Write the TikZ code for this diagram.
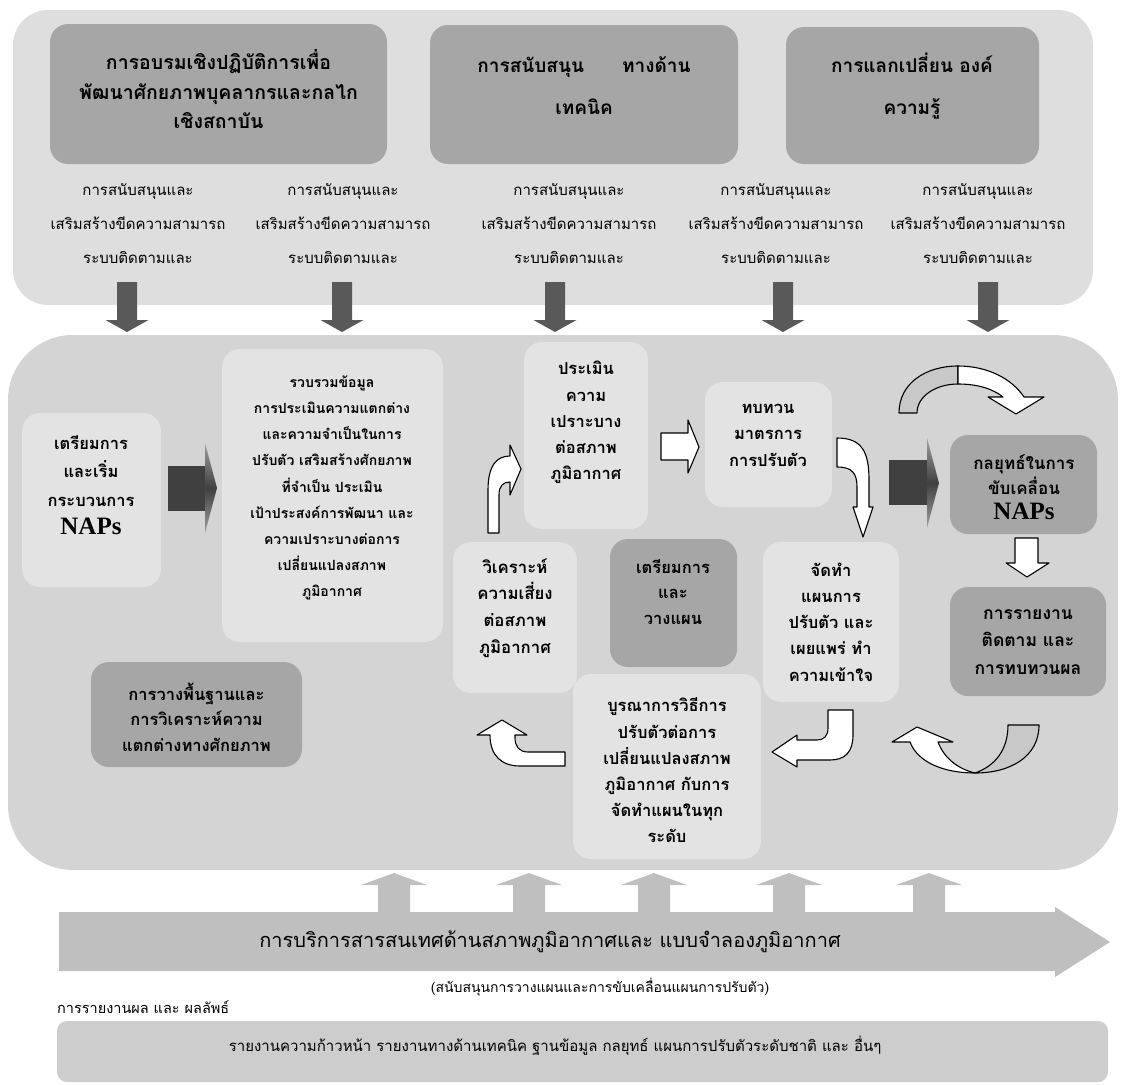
\documentclass[tikz,border=0pt]{standalone}
\usepackage{fontspec}
\setmainfont[Script=Thai]{Loma}
\newfontfamily\napfont{Liberation Serif}
\newcommand\napsty{\napfont\bfseries\fontsize{25}{28}\selectfont}
\usetikzlibrary{fit,calc}
\definecolor{cTop}{HTML}{DEDEDE}
\definecolor{cMid}{HTML}{D4D4D4}
\definecolor{cLight}{HTML}{E3E3E3}
\definecolor{cDark}{HTML}{A6A6A6}
\definecolor{cDown}{HTML}{595959}
\definecolor{cBlk}{HTML}{404040}
\definecolor{cUp}{HTML}{BFBFBF}
\definecolor{cBar}{HTML}{CDCDCD}
\definecolor{cBack}{HTML}{C8C8C8}
\begin{document}
\begin{tikzpicture}[x=1pt,y=-1pt,
  area/.style={inner sep=0pt, outer sep=0pt, draw=none},
  lbox/.style={area, fill=cLight, rounded corners=18pt},
  dbox/.style={area, fill=cDark, rounded corners=18pt},
  wa/.style={fill=white, draw=black, line width=1.1pt, line join=round},
  back/.style={fill=cBack, draw=black, line width=1.1pt, line join=round},
  bt/.style={align=center, inner sep=0pt, font=\bfseries\fontsize{16.5}{26.2}\selectfont},
  tt/.style={align=center, inner sep=0pt, font=\bfseries\fontsize{19.5}{29.5}\selectfont},
  lab/.style={align=center, inner sep=0pt, font=\fontsize{15}{34}\selectfont}
]
\useasboundingbox (0,0) rectangle (1121,1084);

% ---------- panels ----------
\node[area, fill=cTop, rounded corners=35pt, fit={(13,10) (1093,305)}] (top) {};
\node[area, fill=cMid, rounded corners=65pt, fit={(8,335) (1118,870)}] (mid) {};

% ---------- top boxes ----------
\node[dbox, fit={(50,24) (387,164)}] (b1) {};
\node[dbox, fit={(430,25) (738,164)}] (b2) {};
\node[dbox, fit={(786,27) (1039,164)}] (b3) {};
\node[tt] (b1t) at (218.5,89.5) {การอบรมเชิงปฏิบัติการเพื่อ\\พัฒนาศักยภาพบุคลากรและกลไก\\เชิงสถาบัน};
\node[tt, font=\bfseries\fontsize{19}{42}\selectfont] (b2t) at (584,86) {การสนับสนุน\hspace{2em}ทางด้าน\\เทคนิค};
\node[tt, font=\bfseries\fontsize{19}{42}\selectfont] (b3t) at (912,86) {การแลกเปลี่ยน องค์\\ความรู้};

% ---------- labels ----------
\foreach \x/\n in {138/l1,343/l2,569/l3,776/l4,978/l5}
  \node[lab] (\n) at (\x,224) {การสนับสนุนและ\\เสริมสร้างขีดความสามารถ\\ระบบติดตามและ};

% ---------- down arrows ----------
\foreach \x in {127,342,555,783,988}
  \fill[cDown] ({\x-10},282) -- ({\x+10},282) -- ({\x+10},320) -- ({\x+21.5},320)
     -- (\x,332) -- ({\x-21.5},320) -- ({\x-10},320) -- cycle;

% ---------- middle boxes ----------
\node[lbox, fit={(22,413) (161,587)}] (n1) {};
\node[lbox, fit={(222,349) (443,642)}] (n2) {};
\node[lbox, fit={(524,342) (648,529)}] (n3) {};
\node[lbox, fit={(705,382) (832,507)}] (n4) {};
\node[lbox, fit={(453,542) (577,693)}] (n5) {};
\node[dbox, fit={(610,539) (737,667)}] (n6) {};
\node[dbox, fit={(91,662) (302,767)}] (n7) {};
\node[lbox, fit={(573,674) (761,859)}] (n8) {};
\node[lbox, fit={(763,542) (899,702)}] (n9) {};
\node[dbox, fit={(950,435) (1097,534)}] (n10) {};
\node[dbox, fit={(950,587) (1106,696)}] (n11) {};

\node[bt, font=\bfseries\fontsize{16.5}{28.5}\selectfont] (n1t) at (91,485) {เตรียมการ\\และเริ่ม\\กระบวนการ\\{\napsty NAPs}};
\node[bt, font=\bfseries\fontsize{14}{26.2}\selectfont] (n2t) at (332,488) {รวบรวมข้อมูล\\การประเมินความแตกต่าง\\และความจำเป็นในการ\\ปรับตัว เสริมสร้างศักยภาพ\\ที่จำเป็น ประเมิน\\เป้าประสงค์การพัฒนา และ\\ความเปราะบางต่อการ\\เปลี่ยนแปลงสภาพ\\ภูมิอากาศ};
\node[bt] (n3t) at (586,422.5) {ประเมิน\\ความ\\เปราะบาง\\ต่อสภาพ\\ภูมิอากาศ};
\node[bt, font=\bfseries\fontsize{16.5}{26.5}\selectfont] (n4t) at (768,435) {ทบทวน\\มาตรการ\\การปรับตัว};
\node[bt, font=\bfseries\fontsize{16.8}{26.7}\selectfont] (n5t) at (515,608) {วิเคราะห์\\ความเสี่ยง\\ต่อสภาพ\\ภูมิอากาศ};
\node[bt, font=\bfseries\fontsize{16.5}{25.5}\selectfont] (n6t) at (673,592) {เตรียมการ\\และ\\วางแผน};
\node[bt, font=\bfseries\fontsize{16.5}{25.5}\selectfont] (n7t) at (196.5,717) {การวางพื้นฐานและ\\การวิเคราะห์ความ\\แตกต่างทางศักยภาพ};
\node[bt] (n8t) at (667,770.5) {บูรณาการวิธีการ\\ปรับตัวต่อการ\\เปลี่ยนแปลงสภาพ\\ภูมิอากาศ กับการ\\จัดทำแผนในทุก\\ระดับ};
\node[bt] (n9t) at (831,622) {จัดทำ\\แผนการ\\ปรับตัว และ\\เผยแพร่ ทำ\\ความเข้าใจ};
\node[bt, font=\bfseries\fontsize{17}{25}\selectfont] (n10t) at (1024,487) {กลยุทธ์ในการ\\ขับเคลื่อน\\{\napsty NAPs}};
\node[bt, font=\bfseries\fontsize{17.5}{27.5}\selectfont] (n11t) at (1028,642) {การรายงาน\\ติดตาม และ\\การทบทวนผล};

% ---------- dark block arrows ----------
\fill[cBlk] (168,466) rectangle (205.5,511);
\shade[top color=gray!75, bottom color=gray!75, middle color=cBlk] (205,443) -- (217,488) -- (205,533) -- cycle;
\fill[cBlk] (889,460) rectangle (927.5,505);
\shade[top color=gray!75, bottom color=gray!75, middle color=cBlk] (927,438) -- (939,483) -- (927,528) -- cycle;

% ---------- white arrows ----------
% n3 -> n4
\path[wa] (661,433) -- (688,433) -- (688,420) -- (699,447) -- (688,473) -- (688,460) -- (661,460) -- cycle;
% n5 -> n3 (bent up-right)
\path[wa] (488,533) -- (488,490) .. controls (488,465) and (497,456) .. (510,456) -- (510,445) -- (521,469)
   -- (510,495) -- (510,482) .. controls (503,482) and (499,486) .. (499,495) -- (499,533) -- cycle;
% n4 -> n9 (bent right-down)
\path[wa] (837,438) .. controls (862,438) and (869,452) .. (869,480) -- (869,507) -- (873,507) -- (863,537)
   -- (853,507) -- (857,507) -- (857,487) .. controls (857,473) and (852,467) .. (837,467) -- cycle;
% n10 -> n11
\path[wa] (1015,538) -- (1038,538) -- (1038,563) -- (1049,563) -- (1027,577) -- (1006,563) -- (1015,563) -- cycle;
% n9 -> n8 (bent down-left)
\path[wa] (828,710) -- (853,710) -- (853,735) .. controls (853,752) and (845,760) .. (830,760) -- (797,760)
   -- (797,767) -- (772,752) -- (797,735) -- (797,740) -- (817,740) .. controls (824,740) and (828,736) .. (828,728) -- cycle;
% n8 -> n5 (left then up)
\path[wa] (565,752) -- (528,752) .. controls (519,752) and (515,746) .. (515,738) -- (515,735) -- (527,735)
   -- (502,720) -- (477,735) -- (490,735) .. controls (490,756) and (502,766) .. (520,766) -- (565,766) -- cycle;

% ---------- ribbon arrows ----------
\path[back] (899,413) .. controls (899,383) and (926,366) .. (958,366) -- (958,384)
   .. controls (936,384) and (917,396) .. (917,413) -- cycle;
\path[wa] (958,366) .. controls (988,366) and (1012,379) .. (1024,397) -- (1044,397) -- (1016,414) -- (988,397)
   -- (1003,397) .. controls (993,389) and (978,384) .. (958,384) -- cycle;
\path[back] (1008,725) -- (1039,725) .. controls (1039,757) and (1010,773) .. (975,773)
   .. controls (995,766) and (1008,750) .. (1008,725) -- cycle;
\path[wa] (975,773) .. controls (945,773) and (918,763) .. (910,742) -- (892,742) -- (917,727) -- (953,742)
   -- (938,742) .. controls (944,758) and (958,769) .. (975,773) -- cycle;

% ---------- up arrows ----------
\foreach \x in {394,529,654,789,929}
  \fill[cUp] ({\x-16},912) -- ({\x-16},885) -- ({\x-33},885) -- (\x,873) -- ({\x+33},885)
     -- ({\x+16},885) -- ({\x+16},912) -- cycle;

% ---------- big arrow ----------
\fill[cUp] (59,912) -- (1055,912) -- (1055,907) -- (1110,942) -- (1055,977) -- (1055,971) -- (59,971) -- cycle;
\node[inner sep=0pt, font=\fontsize{20}{24}\selectfont] (bigt) at (550,942) {การบริการสารสนเทศด้านสภาพภูมิอากาศและ แบบจำลองภูมิอากาศ};
\node[inner sep=0pt, font=\fontsize{14}{16}\selectfont] (cap) at (600,987) {(สนับสนุนการวางแผนและการขับเคลื่อนแผนการปรับตัว)};
\node[inner sep=0pt, anchor=west, font=\fontsize{14.5}{16}\selectfont] (rep) at (57,1007) {การรายงานผล และ ผลลัพธ์};

% ---------- bottom bar ----------
\node[area, fill=cBar, rounded corners=10pt, fit={(57,1021) (1108,1082)}] (bar) {};
\node[inner sep=0pt, font=\fontsize{15}{18}\selectfont] (bart) at (555,1046) {รายงานความก้าวหน้า รายงานทางด้านเทคนิค ฐานข้อมูล กลยุทธ์ แผนการปรับตัวระดับชาติ และ อื่นๆ};
\end{tikzpicture}
\end{document}
